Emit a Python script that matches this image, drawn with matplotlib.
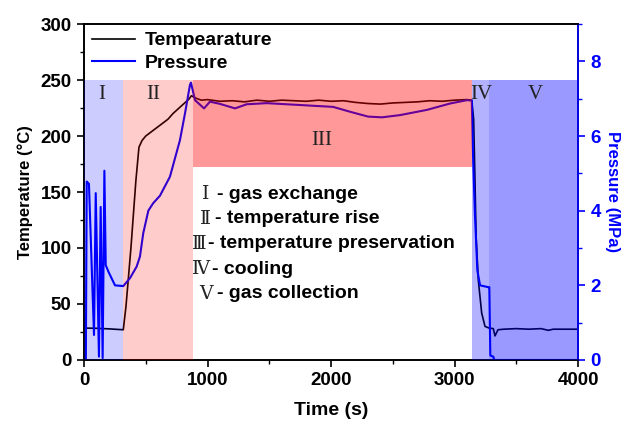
import matplotlib
matplotlib.use("Agg")
import matplotlib.pyplot as plt
from matplotlib.patches import Rectangle
from matplotlib.ticker import MultipleLocator

plt.rcParams['font.family'] = ['Liberation Sans', 'DejaVu Sans']
plt.rcParams['font.weight'] = 'bold'

# temperature log (s, degC)
time_T = [0, 100, 200, 318, 340, 380, 420, 445, 470, 500, 560, 620, 680, 720,
          780, 820, 850, 870, 900, 950, 1000, 1100, 1200, 1300, 1400, 1500,
          1600, 1700, 1800, 1900, 2000, 2100, 2200, 2300, 2400, 2500, 2600,
          2700, 2800, 2900, 3000, 3100, 3140, 3155, 3165, 3175, 3193, 3220,
          3247, 3280, 3314, 3328, 3352, 3400, 3500, 3600, 3700, 3760, 3800,
          3900, 4000]
temp = [28.5, 28.3, 27.8, 27.0, 48, 100, 160, 190, 196, 200, 205, 210, 215,
        220, 226, 230, 233, 236, 234, 232, 232.5, 231, 231.5, 230.5, 232,
        231, 232, 231.5, 231, 232, 231, 231.5, 230, 229, 228.5, 229.5, 230,
        230.5, 231.5, 231, 232, 232.5, 232, 215, 165, 110, 71, 42, 30, 28.5,
        28, 21.5, 27, 27.5, 28, 27.5, 28, 26.5, 27.5, 27.5, 27.5]

# pressure log (s, MPa)
time_P = [0, 15, 22, 40, 81, 95, 121, 135, 151, 165, 176, 200, 251, 318,
          372, 426, 453, 480, 521, 560, 615, 696, 777, 818, 858, 866, 899,
          972, 1020, 1101, 1223, 1317, 1479, 1749, 2017, 2154, 2300, 2413,
          2559, 2777, 2964, 3100, 3140, 3150, 3165, 3185, 3207, 3274, 3282,
          3290, 3314, 3322, 4000]
pres = [0, 0, 4.78, 4.72, 0.67, 4.47, 0.09, 4.1, 0.05, 5.07, 2.54, 2.35,
        2.0, 1.98, 2.19, 2.5, 2.77, 3.4, 4.0, 4.2, 4.4, 4.91, 5.89, 6.61,
        7.37, 7.43, 6.96, 6.74, 6.92, 6.86, 6.74, 6.85, 6.88, 6.83, 6.78,
        6.65, 6.52, 6.5, 6.56, 6.7, 6.87, 6.96, 6.95, 5.5, 3.94, 2.4, 2.0,
        1.95, 1.95, 0.12, 0.09, 0.0, 0.0]

# process stages: (start, end, bottom, top, colour, alpha)
stage_names = ['I', 'II', 'III', 'IV', 'V']
stage_start = [0, 318, 883, 3142, 3279]
stage_end = [318, 883, 3142, 3279, 4000]
stage_bottom = [0, 0, 172, 0, 0]
stage_top = [250, 250, 250, 250, 250]
stage_color = ['blue', 'red', 'red', 'blue', 'blue']
stage_alpha = [0.2, 0.2, 0.4, 0.3, 0.4]
stage_label_x = [146, 559, 1927, 3215, 3652]
stage_label_y = [237, 237, 196, 237, 237]

notes = ['- gas exchange', '- temperature rise', '- temperature preservation',
         '- cooling', '- gas collection']
note_num = ['Ⅰ', 'Ⅱ', 'Ⅲ', 'Ⅳ', 'Ⅴ']
note_num_x = [985, 985, 935, 947, 987]
note_x = [1074, 1061, 1004, 1034, 1074]
note_y = [148, 126, 103.6, 81, 59]

fig = plt.figure(figsize=(6.25, 4.28), dpi=100)
ax = fig.add_axes([0.1344, 0.1589, 0.7904, 0.785])
ax2 = ax.twinx()

l1, = ax.plot(time_T, temp, color='black', lw=1.2, zorder=2)
l2, = ax2.plot(time_P, pres, color='#0000ff', lw=1.5, zorder=2)

# stage shading sits on top of both curves, in temperature coordinates
for x0, x1, y0, y1, c, a in zip(stage_start, stage_end, stage_bottom,
                                stage_top, stage_color, stage_alpha):
    r = Rectangle((x0, y0), x1 - x0, y1 - y0, facecolor=c, alpha=a,
                  edgecolor='none', transform=ax.transData, zorder=3)
    ax2.add_artist(r)

for name, x, y in zip(stage_names, stage_label_x, stage_label_y):
    ax2.text(x, y, name, transform=ax.transData, ha='center', va='center',
             fontsize=15, fontweight='normal', family='Liberation Serif',
             color='#222222', zorder=4)

for num, nx, tx, y, s in zip(note_num, note_num_x, note_x, note_y, notes):
    ax2.text(nx, y, num, transform=ax.transData, ha='center', va='center',
             fontsize=13.5, fontweight='normal',
             family=['DejaVu Serif', 'Noto Sans CJK SC'], color='#222222',
             zorder=4)
    ax2.text(tx, y, s, transform=ax.transData, ha='left', va='center',
             fontsize=14, fontweight='bold', color='black', zorder=4)

ax.set_xlim(0, 4000)
ax.set_ylim(0, 300)
ax2.set_ylim(0, 9)
ax.xaxis.set_major_locator(MultipleLocator(1000))
ax.xaxis.set_minor_locator(MultipleLocator(500))
ax.yaxis.set_major_locator(MultipleLocator(50))
ax.yaxis.set_minor_locator(MultipleLocator(25))
ax2.yaxis.set_major_locator(MultipleLocator(2))
ax2.yaxis.set_minor_locator(MultipleLocator(1))

for a in (ax, ax2):
    a.tick_params(which='major', direction='out', length=5, width=1.2,
                  labelsize=13.5, pad=4)
    a.tick_params(which='minor', direction='out', length=3, width=1)
    for sp in a.spines.values():
        sp.set_linewidth(1.2)
ax2.spines['right'].set_color('#0000ff')
ax2.tick_params(axis='y', which='both', colors='#0000ff')

ax.set_xlabel('Time (s)', fontsize=14, fontweight='bold', labelpad=9)
ax.set_ylabel('Temperature (°C)', fontsize=12, fontweight='bold',
              labelpad=5)
ax2.set_ylabel('Pressure (MPa)', fontsize=12, fontweight='bold',
               color='#0000ff', rotation=270, labelpad=14)

ax2.legend([l1, l2], ['Tempearature', 'Pressure'], loc='upper left',
           frameon=False, fontsize=14, handlelength=2.2, handletextpad=0.5,
           borderaxespad=0.2, labelspacing=0.25, borderpad=0.2)

fig.savefig('out.png', dpi=100)
